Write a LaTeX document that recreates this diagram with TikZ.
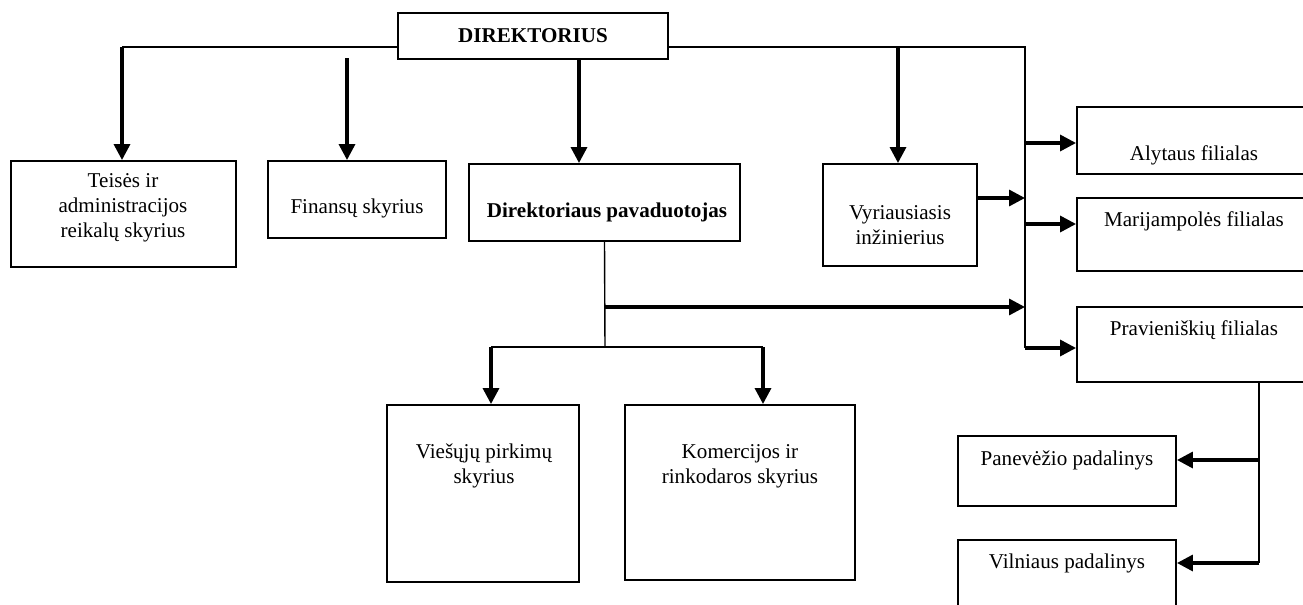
\documentclass[tikz,border=0pt]{standalone}
\usepackage{fontspec}
\setmainfont{Liberation Serif}
\usetikzlibrary{arrows.meta,fit}
\begin{document}
\begin{tikzpicture}[x=0.02cm,y=-0.02cm,
  box/.style={draw,line width=1.1pt,inner sep=0pt},
  lbl/.style={font=\fontsize{12}{14.2}\selectfont,align=center,inner sep=0pt},
  blbl/.style={lbl,font=\fontsize{12}{14.2}\selectfont\bfseries},
  thinline/.style={line width=0.8pt},
  arr/.style={line width=1.9pt,-{Triangle[length=9pt,width=9pt]}}]
\useasboundingbox (0,0) rectangle (1303,605);
\clip (0,0) rectangle (1303,605);
\fill[white] (0,0) rectangle (1303,605);
% boxes
\node[box,fit={(398,13) (668,59)}] (dir) {};
\node[box,fit={(11,161) (236,267)}] (teis) {};
\node[box,fit={(268,161) (446,238)}] (fin) {};
\node[box,fit={(469,164) (740,241)}] (pav) {};
\node[box,fit={(823,164) (977,266)}] (vyr) {};
\node[box,fit={(1077,107) (1330,174)}] (alyt) {};
\node[box,fit={(1077,198) (1330,271)}] (mar) {};
\node[box,fit={(1077,307) (1330,382)}] (prav) {};
\node[box,fit={(387,405) (579,582)}] (vies) {};
\node[box,fit={(625,405) (855,580)}] (kom) {};
\node[box,fit={(958,436) (1176,506)}] (pan) {};
\node[box,fit={(958,540) (1176,630)}] (vil) {};
% texts
\node[blbl] (tdir) at (533,36) {DIREKTORIUS};
\node[lbl] (tteis) at (123,208) {Teisės ir\\administracijos\\reikalų skyrius};
\node[lbl] (tfin) at (357,208) {Finansų skyrius};
\node[blbl] (tpav) at (607,212) {Direktoriaus pavaduotojas};
\node[lbl] (tvyr) at (900,225) {Vyriausiasis\\inžinierius};
\node[lbl] (talyt) at (1194,155) {Alytaus filialas};
\node[lbl] (tmar) at (1194,221) {Marijampolės filialas};
\node[lbl] (tprav) at (1194,330) {Pravieniškių filialas};
\node[lbl] (tvies) at (484,466) {Viešųjų pirkimų\\skyrius};
\node[lbl] (tkom) at (740,466) {Komercijos ir\\rinkodaros skyrius};
\node[lbl] (tpan) at (1067,460) {Panevėžio padalinys};
\node[lbl] (tvil) at (1067,563) {Vilniaus padalinys};
% junction coordinates
\coordinate (jL) at (122,47);
\coordinate (jR) at (1025,47);
\coordinate (jV) at (898,47);
\coordinate (jP) at (1025,348);
\coordinate (fS) at (347,58);
\coordinate (pS) at (579,59);
\coordinate (bJ) at (605,347);
\coordinate (bL) at (491,347);
\coordinate (bR) at (763,347);
\coordinate (lA) at (605,307);
\coordinate (vS) at (1259,382);
\coordinate (vE) at (1259,563);
% top connectors
\draw[thinline] (jL) -- (jL -| dir.west);
\draw[thinline] (jR -| dir.east) -- (jR) -- (jP);
\draw[arr] (jL) -- (jL |- teis.north);
\draw[arr] (fS) -- (fS |- fin.north);
\draw[arr] (pS) -- (pS |- pav.north);
\draw[arr] (jV) -- (jV |- vyr.north);
% right column
\draw[arr] (vyr.east |- 0,198) -- (1025,198);
\draw[arr] (1025,143) -- (alyt.west |- 0,143);
\draw[arr] (1025,224) -- (mar.west |- 0,224);
\draw[arr] (jP) -- (jP -| prav.west);
% deputy branches
\draw[thinline] (pav.south) -- (bJ);
\draw[thinline] (bL) -- (bR);
\draw[arr] (lA) -- (lA -| jR);
\draw[arr] (bL) -- (bL |- vies.north);
\draw[arr] (bR) -- (bR |- kom.north);
% subdivisions
\draw[thinline] (vS) -- (vE);
\draw[arr] (1259,460) -- (pan.east |- 0,460);
\draw[arr] (vE) -- (vE -| vil.east);
\end{tikzpicture}
\end{document}
